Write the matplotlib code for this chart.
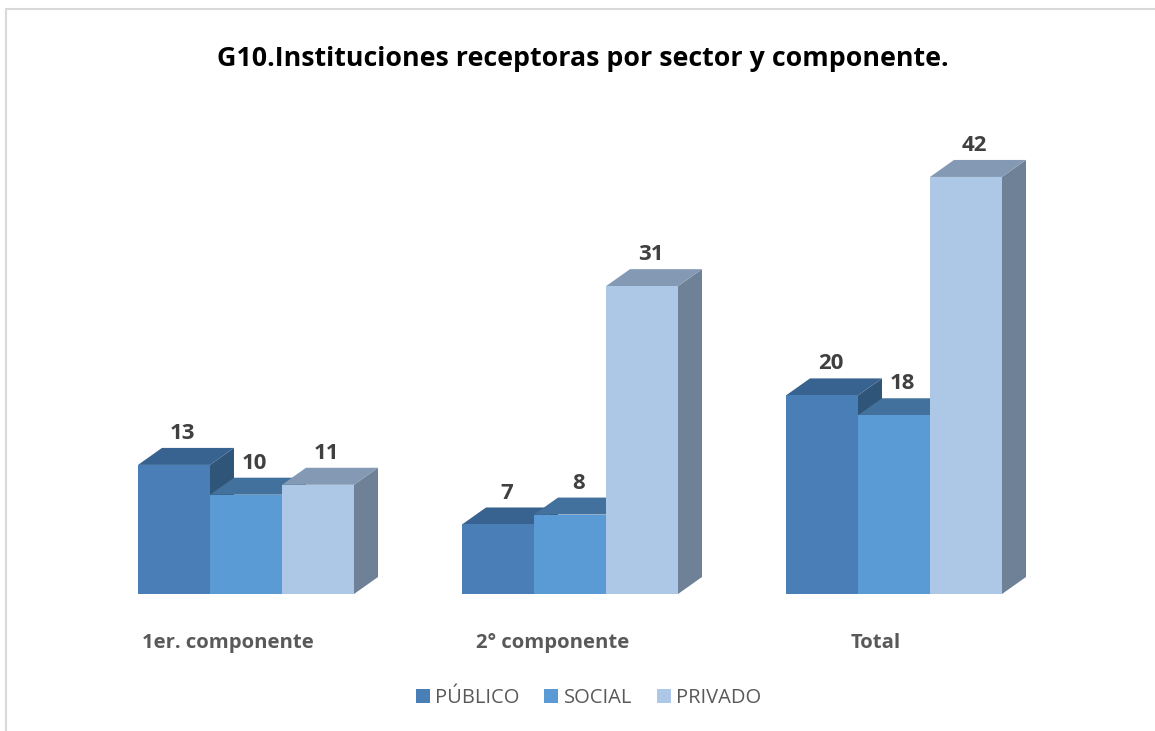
import numpy as np
import matplotlib
matplotlib.use("Agg")
import matplotlib.pyplot as plt
from matplotlib.patches import Polygon, Rectangle

# data
categories = ['1er. componente', '2° componente', 'Total']
series = ['PÚBLICO', 'SOCIAL', 'PRIVADO']
publico = [13, 7, 20]
social = [10, 8, 18]
privado = [11, 31, 42]
title = 'G10.Instituciones receptoras por sector y componente.'

# colours: front, top, side
front_cols = ['#4a7eb6', '#5b9bd5', '#adc7e6']
top_cols = ['#38628f', '#41719c', '#8399b4']
side_cols = ['#2f5579', '#3a6690', '#6e8196']

W, H = 1155, 731
fig = plt.figure(figsize=(W / 100, H / 100), dpi=100)
plt.rcParams['font.family'] = ['Open Sans', 'DejaVu Sans']

# page border (light gray, left and top visible)
fig.patches.append(Rectangle((6 / W, -0.1), 1.2, (H - 9) / H + 0.1, transform=fig.transFigure,
                             fill=False, edgecolor='#d9d9d9', linewidth=1.5))

# axes: x in group units (324 px per group), y in value units
ax = fig.add_axes([3 / W, (H - 594) / H, 1134 / W, 496.5 / H])
ax.set_xlim(-0.75, 2.75)
ax.set_ylim(0, 50)
ax.axis('off')

bar_w = 72 / 324
dx = 24 / 324
dy = 17 / 9.93

values = [publico, social, privado]
for g in range(len(categories)):
    for s in range(len(series)):
        h = values[s][g]
        x0 = g - 1.5 * bar_w + s * bar_w
        x1 = x0 + bar_w
        side = [(x1, 0), (x1 + dx, dy), (x1 + dx, h + dy), (x1, h)]
        top = [(x0, h), (x0 + dx, h + dy), (x1 + dx, h + dy), (x1, h)]
        front = [(x0, 0), (x1, 0), (x1, h), (x0, h)]
        ax.add_patch(Polygon(side, closed=True, facecolor=side_cols[s], edgecolor='none'))
        ax.add_patch(Polygon(top, closed=True, facecolor=top_cols[s], edgecolor='none'))
        ax.add_patch(Polygon(front, closed=True, facecolor=front_cols[s], edgecolor='none'))
        ax.text(x0 + bar_w / 2 + dx / 2 - 0.01, h + dy + 0.4, str(h), ha='center', va='bottom',
                fontsize=16, fontweight='bold', color='#404040')

# category labels
for g, cat in enumerate(categories):
    ax.text(g - 0.055, -4.9, cat, ha='center', va='center', fontsize=14.6,
            fontweight='bold', color='#595959', clip_on=False)

fig.text(583 / W, 1 - 59 / H, title, ha='center', va='center', fontsize=19.3,
         fontweight='bold', color='black')

# legend
handles = [Rectangle((0, 0), 1, 1, facecolor=c, edgecolor='none') for c in front_cols]
leg = fig.legend(handles, series, loc='center', bbox_to_anchor=(588.5 / W, 1 - 698 / H),
                 ncol=3, frameon=False, fontsize=14.5, handlelength=0.7, handleheight=0.7,
                 handletextpad=0.25, columnspacing=1.25)
for t in leg.get_texts():
    t.set_color('#595959')

fig.savefig('out.png', dpi=100, facecolor='white')
